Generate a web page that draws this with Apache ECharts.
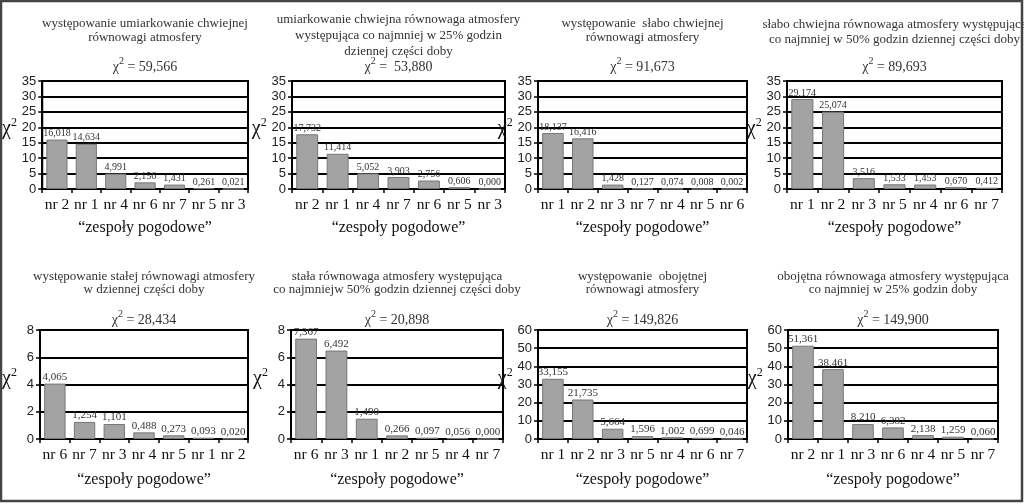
<!DOCTYPE html>
<html><head><meta charset="utf-8">
<script src="https://cdn.jsdelivr.net/npm/echarts@6/dist/echarts.min.js"></script>
<style>html,body{margin:0;padding:0;background:#fff}#c{width:1024px;height:504px}</style>
</head><body><div id="c"></div>
<script>
// ---- data ----
const titles = [
  "występowanie umiarkowanie chwiejnej\nrównowagi atmosfery",
  "umiarkowanie chwiejna równowaga atmosfery\nwystępująca co najmniej w 25% godzin\ndziennej części doby",
  "występowanie  słabo chwiejnej\nrównowagi atmosfery",
  "słabo chwiejna równowaga atmosfery występująca\nco najmniej w 50% godzin dziennej części doby",
  "występowanie stałej równowagi atmosfery\nw dziennej części doby",
  "stała równowaga atmosfery występująca\nco najmniejw 50% godzin dziennej części doby",
  "występowanie  obojętnej\nrównowagi atmosfery",
  "obojętna równowaga atmosfery występująca\nco najmniej w 25% godzin doby"
];
const chiTotals = ["59,566", " 53,880", "91,673", "89,693", "28,434", "20,898", "149,826", "149,900"];
const cats1 = ["nr 2","nr 1","nr 4","nr 6","nr 7","nr 5","nr 3"];
const vals1 = [16.018,14.634,4.991,2.156,1.431,0.261,0.021];
const cats2 = ["nr 2","nr 1","nr 4","nr 7","nr 6","nr 5","nr 3"];
const vals2 = [17.732,11.414,5.052,3.903,2.756,0.606,0.000];
const cats3 = ["nr 1","nr 2","nr 3","nr 7","nr 4","nr 5","nr 6"];
const vals3 = [18.137,16.416,1.428,0.127,0.074,0.008,0.002];
const cats4 = ["nr 1","nr 2","nr 3","nr 5","nr 4","nr 6","nr 7"];
const vals4 = [29.174,25.074,3.516,1.533,1.453,0.670,0.412];
const cats5 = ["nr 6","nr 7","nr 3","nr 4","nr 5","nr 1","nr 2"];
const vals5 = [4.065,1.254,1.101,0.488,0.273,0.093,0.020];
const cats6 = ["nr 6","nr 3","nr 1","nr 2","nr 5","nr 4","nr 7"];
const vals6 = [7.367,6.492,1.490,0.266,0.097,0.056,0.000];
const cats7 = ["nr 1","nr 2","nr 3","nr 5","nr 4","nr 6","nr 7"];
const vals7 = [33.155,21.735,5.664,1.596,1.002,0.699,0.046];
const cats8 = ["nr 2","nr 1","nr 3","nr 6","nr 4","nr 5","nr 7"];
const vals8 = [51.361,38.461,8.210,6.382,2.138,1.259,0.060];
const yMax = [35,35,35,35,8,8,60,60];
const yStep = [5,5,5,5,2,2,10,10];
const xAxisTitle = "“zespoły pogodowe”";
const yAxisTitle = "χ";

const cats = [cats1,cats2,cats3,cats4,cats5,cats6,cats7,cats8];
const vals = [vals1,vals2,vals3,vals4,vals5,vals6,vals7,vals8];

// ---- layout ----
const boxes = [
  [42,81,206,108],[292,81,213,108],[538,81,209,108],[787,81,215,108],
  [40,330,208,109],[291,330,212,109],[538,330,209,109],[788,330,210,109]
];
const titleY = [[24,38],[20,36,52],[24,38],[25,40],[277,290],[277,290],[277,290],[277,290]];
const chiY = [65,65,65,65,318,318,318,318];

const serif = "'Liberation Serif','DejaVu Serif',serif";
const sans = "'Liberation Sans',Arial,sans-serif";
const fmt = v => v.toFixed(3).replace('.', ',');

const grid=[], xAxis=[], yAxis=[], series=[], graphic=[];
graphic.push({type:'rect', shape:{x:1,y:1,width:1021,height:500}, style:{fill:'none',stroke:'#444',lineWidth:2.5}, z:100});
for (let i=0;i<8;i++){
  const [l,t,w,h] = boxes[i];
  const cx = l + w/2;
  grid.push({left:l, top:t, width:w, height:h, show:true, borderColor:'#000', borderWidth:2, backgroundColor:'#fff'});
  xAxis.push({type:'category', gridIndex:i, data:cats[i],
    axisLine:{lineStyle:{color:'#000',width:2}},
    axisTick:{show:true, alignWithLabel:false, length:4, lineStyle:{color:'#000',width:1.5}},
    axisLabel:{fontFamily:serif, fontSize:15.5, color:'#111', margin:8, interval:0}
  });
  yAxis.push({type:'value', gridIndex:i, min:0, max:yMax[i], interval:yStep[i],
    axisLine:{show:true, lineStyle:{color:'#000',width:2}},
    axisTick:{show:true, length:4, lineStyle:{color:'#000',width:1.5}},
    splitLine:{lineStyle:{color:'#000',width:2}},
    axisLabel:{fontFamily:sans, fontSize:13, color:'#222', margin:6},
    name:'{a|'+yAxisTitle+'}{s|2}', nameLocation:'middle', nameRotate:0, nameGap:23,
    nameTextStyle:{padding:[0,0,14,0], rich:{a:{fontFamily:serif,fontSize:20,color:'#111',lineHeight:22,verticalAlign:'bottom'},
                         s:{fontFamily:serif,fontSize:12,color:'#111',verticalAlign:'top',lineHeight:22}}}
  });
  series.push({type:'bar', xAxisIndex:i, yAxisIndex:i, data:vals[i], barWidth:'72%',
    itemStyle:{color:'#a3a3a3', borderColor:'#777', borderWidth:1},
    label:{show:true, position:'top', distance:1, formatter:p=>fmt(p.value),
      fontFamily:serif, fontSize:(i>=4?11:10), color:'#333'},
    animation:false
  });
  const lines = titles[i].split('\n');
  lines.forEach((ln,k)=>{
    graphic.push({type:'text', x:cx, y:titleY[i][k], style:{text:ln, fill:'#333', font:'13px '+serif, textAlign:'center', textVerticalAlign:'middle'}});
  });
  graphic.push({type:'text', x:cx, y:chiY[i], style:{text:'{a|χ}{s|2}{a| = '+chiTotals[i]+'}', textAlign:'center', textVerticalAlign:'middle',
    rich:{a:{fontFamily:serif,fontSize:14,fill:'#333',lineHeight:18,verticalAlign:'bottom'}, s:{fontFamily:serif,fontSize:10,fill:'#333',verticalAlign:'top',lineHeight:18}}}});
  graphic.push({type:'text', x:cx, y:(i<4?228:480), style:{text:xAxisTitle, fill:'#111', font:'16px '+serif, textAlign:'center', textVerticalAlign:'middle'}});
}

const chart = echarts.init(document.getElementById('c'), null, {renderer:'canvas'});
chart.setOption({animation:false, backgroundColor:'#fff', grid, xAxis, yAxis, series, graphic});
</script></body></html>
